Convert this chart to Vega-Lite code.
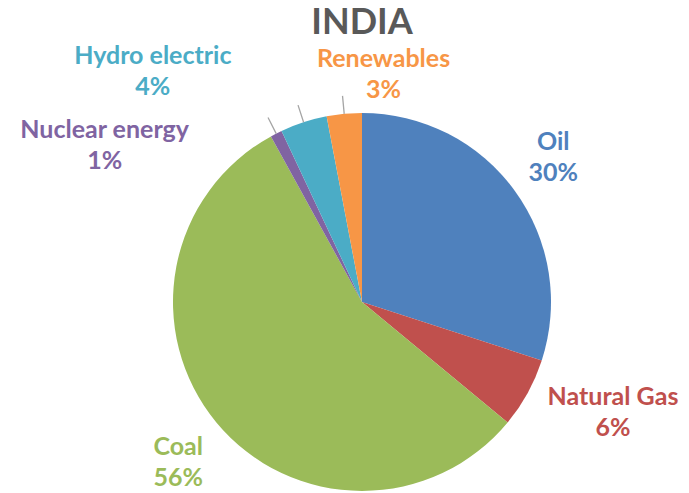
{
  "$schema": "https://vega.github.io/schema/vega-lite/v6.json",
  "width": 600,
  "height": 380,
  "autosize": "none",
  "padding": {"left": 62, "right": 27, "top": 112, "bottom": 1},
  "background": "white",
  "title": {
    "text": "INDIA",
    "font": "Lato",
    "fontSize": 36,
    "fontWeight": "bold",
    "color": "#595959",
    "anchor": "middle",
    "frame": "group",
    "baseline": "alphabetic",
    "offset": -26
  },
  "data": {
    "values": [
      {"i": 1, "source": "Oil", "share": 0.30},
      {"i": 2, "source": "Natural Gas", "share": 0.06},
      {"i": 3, "source": "Coal", "share": 0.56},
      {"i": 4, "source": "Nuclear energy", "share": 0.01},
      {"i": 5, "source": "Hydro electric", "share": 0.04},
      {"i": 6, "source": "Renewables", "share": 0.03}
    ]
  },
  "transform": [
    {"stack": "share", "groupby": [], "sort": [{"field": "i", "order": "ascending"}], "as": ["s0", "s1"]},
    {"fold": ["s0", "s1"], "as": ["k", "edge"]},
    {"aggregate": [{"op": "mean", "field": "edge", "as": "mid"}], "groupby": ["source", "share", "i", "s0", "s1"]}
  ],
  "encoding": {
    "theta": {"field": "mid", "type": "quantitative", "stack": null, "scale": {"domain": [0, 1]}},
    "color": {
      "field": "source",
      "type": "nominal",
      "legend": null,
      "scale": {
        "domain": ["Oil", "Natural Gas", "Coal", "Nuclear energy", "Hydro electric", "Renewables"],
        "range": ["#4F81BD", "#C0504D", "#9BBB59", "#8064A2", "#4BACC6", "#F79646"]
      }
    }
  },
  "layer": [
    {
      "mark": {"type": "arc", "outerRadius": 189},
      "encoding": {
        "theta": {"field": "s0", "type": "quantitative", "stack": null, "scale": {"domain": [0, 1]}},
        "theta2": {"field": "s1"}
      }
    },
    {
      "transform": [{"filter": {"field": "source", "oneOf": ["Nuclear energy", "Hydro electric", "Renewables"]}}],
      "mark": {"type": "arc", "radius": 207, "radius2": 189, "stroke": "#a5a5a5", "strokeWidth": 1.3, "fill": null},
      "encoding": {
        "theta2": {"field": "mid"},
        "color": {"value": null}
      }
    },
    {
      "transform": [{"filter": {"field": "source", "equal": "Oil"}}],
      "mark": {"type": "text", "radius": 240, "dx": -3, "dy": -19, "font": "Lato", "fontSize": 25, "fontWeight": "bold", "align": "center", "baseline": "middle", "lineHeight": 31},
      "encoding": {"text": {"value": {"expr": "[datum.source, format(datum.share, '.0%')]"}}}
    },
    {
      "transform": [{"filter": {"field": "source", "equal": "Natural Gas"}}],
      "mark": {"type": "text", "radius": 275, "dx": 10, "dy": -37, "font": "Lato", "fontSize": 25, "fontWeight": "bold", "align": "center", "baseline": "middle", "lineHeight": 31},
      "encoding": {"text": {"value": {"expr": "[datum.source, format(datum.share, '.0%')]"}}}
    },
    {
      "transform": [{"filter": {"field": "source", "equal": "Coal"}}],
      "mark": {"type": "text", "radius": 245, "dx": 5, "dy": -11, "font": "Lato", "fontSize": 25, "fontWeight": "bold", "align": "center", "baseline": "middle", "lineHeight": 31},
      "encoding": {"text": {"value": {"expr": "[datum.source, format(datum.share, '.0%')]"}}}
    },
    {
      "transform": [{"filter": {"field": "source", "equal": "Nuclear energy"}}],
      "mark": {"type": "text", "radius": 210, "dx": -162, "dy": 15, "font": "Lato", "fontSize": 25, "fontWeight": "bold", "align": "center", "baseline": "middle", "lineHeight": 31},
      "encoding": {"text": {"value": {"expr": "[datum.source, format(datum.share, '.0%')]"}}}
    },
    {
      "transform": [{"filter": {"field": "source", "equal": "Hydro electric"}}],
      "mark": {"type": "text", "radius": 240, "dx": -135, "dy": -18, "font": "Lato", "fontSize": 25, "fontWeight": "bold", "align": "center", "baseline": "middle", "lineHeight": 31},
      "encoding": {"text": {"value": {"expr": "[datum.source, format(datum.share, '.0%')]"}}}
    },
    {
      "transform": [{"filter": {"field": "source", "equal": "Renewables"}}],
      "mark": {"type": "text", "radius": 228, "dx": 43, "dy": -16, "font": "Lato", "fontSize": 25, "fontWeight": "bold", "align": "center", "baseline": "middle", "lineHeight": 31},
      "encoding": {"text": {"value": {"expr": "[datum.source, format(datum.share, '.0%')]"}}}
    }
  ],
  "config": {"view": {"stroke": null}}
}
